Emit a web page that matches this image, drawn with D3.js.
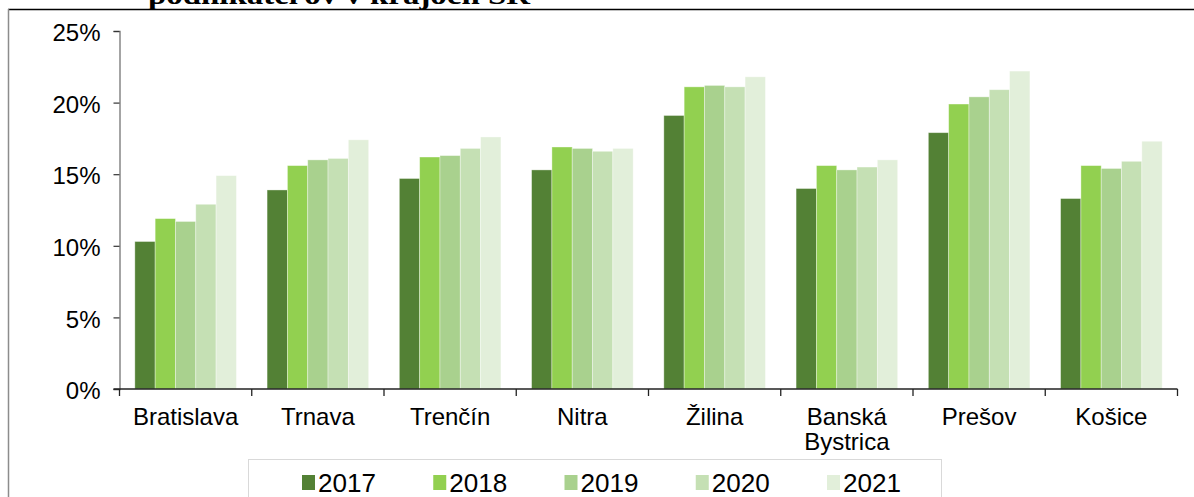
<!DOCTYPE html>
<html>
<head>
<meta charset="utf-8">
<script src="https://cdn.jsdelivr.net/npm/d3@7/dist/d3.min.js"></script>
<style>
  html, body { margin: 0; padding: 0; background: #fff; }
  svg { display: block; }
</style>
</head>
<body>
<svg id="chart" width="1194" height="497"></svg>
<script>
// Podiel podnikateľov podľa krajov SR, roky 2017–2021 (v %)
const regions = ["Bratislava", "Trnava", "Trenčín", "Nitra", "Žilina", "Banská Bystrica", "Prešov", "Košice"];
const years = ["2017", "2018", "2019", "2020", "2021"];
const v2017 = [10.3, 13.9, 14.7, 15.3, 19.1, 14.0, 17.9, 13.3];
const v2018 = [11.9, 15.6, 16.2, 16.9, 21.1, 15.6, 19.9, 15.6];
const v2019 = [11.7, 16.0, 16.3, 16.8, 21.2, 15.3, 20.4, 15.4];
const v2020 = [12.9, 16.1, 16.8, 16.6, 21.1, 15.5, 20.9, 15.9];
const v2021 = [14.9, 17.4, 17.6, 16.8, 21.8, 16.0, 22.2, 17.3];
const yTicks = [0, 5, 10, 15, 20, 25];
const colors = ["#538135", "#92d050", "#a9d18e", "#c5e0b4", "#e2efda"];

const series = [v2017, v2018, v2019, v2020, v2021];
const svg = d3.select("#chart");
const font = "Liberation Sans, Arial, sans-serif";

// outer frame of the chart area
svg.append("line").attr("x1", 8).attr("x2", 1194).attr("y1", 9.5).attr("y2", 9.5)
  .attr("stroke", "#000").attr("stroke-width", 1.5);
svg.append("line").attr("x1", 8.5).attr("x2", 8.5).attr("y1", 9).attr("y2", 497)
  .attr("stroke", "#8c8c8c").attr("stroke-width", 1.5);

// title (only its lower part fits in view)
svg.append("text")
  .attr("x", 339).attr("y", 4)
  .attr("text-anchor", "middle")
  .attr("font-family", "Liberation Serif, Times New Roman, serif")
  .attr("font-weight", "bold")
  .attr("font-size", 28)
  .attr("textLength", 382).attr("lengthAdjust", "spacingAndGlyphs")
  .text("podnikateľov v krajoch SR");

const plotLeft = 119.5, plotRight = 1177.5, plotTop = 31, plotBottom = 389;

const x = d3.scaleBand().domain(regions).range([plotLeft, plotRight]).paddingInner(0.232).paddingOuter(0.116);
const xs = d3.scaleBand().domain(years).range([0, x.bandwidth()]);
const y = d3.scaleLinear().domain([0, 25]).range([plotBottom, plotTop]);

// bars
const g = svg.append("g");
years.forEach((yr, i) => {
  g.selectAll(null).data(regions.map((r, k) => ({ r, v: series[i][k] })))
    .enter().append("rect")
    .attr("x", d => x(d.r) + xs(yr))
    .attr("y", d => y(d.v))
    .attr("width", xs.bandwidth())
    .attr("height", d => plotBottom - y(d.v))
    .attr("fill", colors[i])
    .attr("stroke", "rgba(255,255,255,0.45)")
    .attr("stroke-width", 0.8);
});

// y axis
const yAxis = d3.axisLeft(y).tickValues(yTicks).tickFormat(d => d + "%").tickSize(6).tickPadding(13);
const ya = svg.append("g").attr("transform", `translate(${plotLeft},0)`).call(yAxis);
ya.select(".domain").attr("stroke", "#868686").attr("stroke-width", 1.5);
ya.selectAll(".tick line").attr("stroke", "#333").attr("stroke-width", 1.2);
ya.selectAll(".tick text").attr("font-family", font).attr("font-size", 24).attr("fill", "#000")
  .attr("dy", "0.4em");

// x axis with ticks on category boundaries
const bounds = d3.range(regions.length + 1).map(i => plotLeft + i * (plotRight - plotLeft) / regions.length);
svg.append("line").attr("x1", plotLeft - 6).attr("x2", plotRight).attr("y1", plotBottom).attr("y2", plotBottom)
  .attr("stroke", "#222").attr("stroke-width", 1.5);
svg.selectAll(".xb").data(bounds).enter().append("line")
  .attr("x1", d => d).attr("x2", d => d).attr("y1", plotBottom).attr("y2", plotBottom + 7)
  .attr("stroke", "#222").attr("stroke-width", 1.3);

// category labels
regions.forEach(r => {
  const cx = x(r) + x.bandwidth() / 2;
  const lines = r === "Banská Bystrica" ? ["Banská", "Bystrica"] : [r];
  lines.forEach((t, j) => {
    svg.append("text").attr("x", cx).attr("y", 425 + j * 25)
      .attr("text-anchor", "middle").attr("font-family", font).attr("font-size", 24)
      .attr("fill", "#000").text(t);
  });
});

// legend
svg.append("rect").attr("x", 248.5).attr("y", 459.5).attr("width", 693).attr("height", 60)
  .attr("fill", "#fff").attr("stroke", "#d9d9d9").attr("stroke-width", 1);
const lx = d3.scalePoint().domain(years).range([302, 827]);
years.forEach((yr, i) => {
  svg.append("rect").attr("x", lx(yr)).attr("y", 475).attr("width", 13).attr("height", 15)
    .attr("fill", colors[i]);
  svg.append("text").attr("x", lx(yr) + 16).attr("y", 492)
    .attr("font-family", font).attr("font-size", 25)
    .attr("textLength", 58).attr("lengthAdjust", "spacingAndGlyphs")
    .attr("fill", "#000").text(yr);
});
</script>
</body>
</html>
